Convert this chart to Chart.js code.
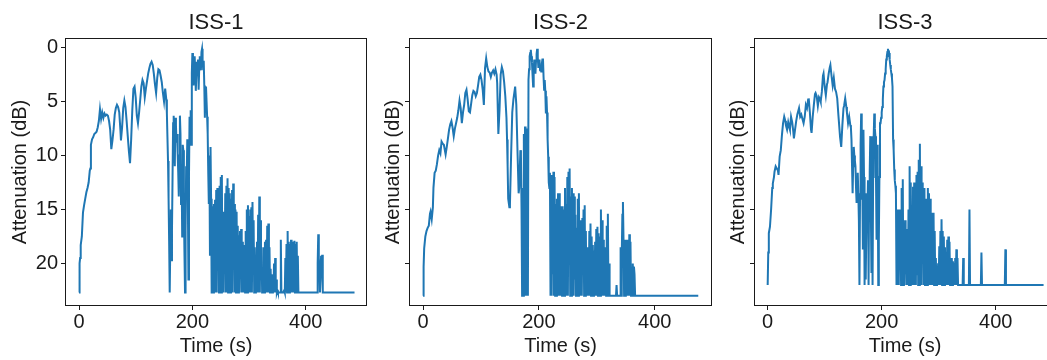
<!DOCTYPE html>
<html>
<head>
<meta charset="utf-8">
<script src="https://cdn.jsdelivr.net/npm/chart.js@4.4.1/dist/chart.umd.min.js"></script>
<style>
  html, body { margin: 0; padding: 0; background: #fff; overflow: hidden; }
  body { width: 1047px; height: 360px; position: relative; }
  canvas { position: absolute; top: 0; }
</style>
</head>
<body>
<canvas id="c1" width="370" height="360" style="left:0"></canvas>
<canvas id="c2" width="342" height="360" style="left:373px"></canvas>
<canvas id="c3" width="341" height="360" style="left:718px"></canvas>
<script>
// axes labels
const titles = ["ISS-1", "ISS-2", "ISS-3"];
const xTicks = [0, 200, 400];
const yTicks = [0, 5, 10, 15, 20];

// ISS-1: time (s) / attenuation (dB)
const iss1Time = [
  0,1,2,3,5,7,9,11,13,15, 17,19,20,21,23,25,27,29,31,33,
  35,37,39,41,43,45,47,49,51,53, 55,57,59,61,63,65,67,69,71,73,
  74,76,78,80,82,84,86,88,90,92, 94,96,98,100,102,104,106,108,110,112,
  114,116,118,120,122,124,126,128,130,132, 134,136,138,140,142,144,146,148,150,152,
  154,
  155,156,157,158,159,160,161,162,163,164, 165,166,167,168,169,170,171,172,173,174,
  175,176,177,178,179,180,181,182,183,184, 185,186,187,188,189,190,191,192,193,194,
  195,196,197,198,199,200,201,202,203,204, 205,206,207,208,209,210,211,212,213,214,
  215,216,217,218,219,220,221,222,223,224, 225,226,227,228,229,230,231,232,233,234,
  235,236,237,238,239,240,241,242,243,244, 245,246,247,248,249,250,251,252,253,254,
  255,256,257,258,259,260,261,262,263,264, 265,266,267,268,269,270,271,272,273,274,
  275,276,277,278,279,280,281,282,283,284, 285,286,287,288,289,290,291,292,293,294,
  295,296,297,298,299,300,301,302,303,304, 305,306,307,308,309,310,311,312,313,314,
  315,316,317,318,319,320,321,322,323,324, 325,326,327,328,329,330,331,332,333,334,
  335,336,337,338,339,340,341,342,343,344, 345,346,347,348,349,350,351,352,353,354,
  355,356,357,358,359,360,361,362,363,364, 365,366,367,368,369,370,371,372,373,374,
  375,376,377,378,379,380,381,382,383,384, 385,386,387,388,
  420,421,422,423,424,425,426,427,428,429, 430,486
];
const iss1Atten = [
  22.7,20.0,19.5,18.3,17.5,15.3,14.6,14.0,13.4,13.0, 12.5,11.4,11.2,9.0,8.5,8.3,8.0,7.9,7.8,7.4,
  6.8,5.7,6.6,6.0,6.5,6.1,6.3,6.2,6.3,6.8, 7.6,9.4,8.6,7.6,6.2,5.6,5.3,5.5,6.0,7.6,
  8.6,7.4,5.6,4.9,5.5,6.8,8.2,9.6,10.7,8.5, 5.8,3.8,3.6,4.6,6.3,7.0,6.0,4.8,3.6,3.0,
  3.3,4.6,3.8,3.1,2.4,1.9,1.5,1.3,1.6,2.4, 3.4,4.2,2.8,2.0,2.1,2.6,3.2,4.2,5.0,3.8,
  4.8,
  6.1,8.3,10.5,14.0,18.0,22.7,18.5,15.0,19.7,17.0, 12.0,7.0,6.3,9.0,11.0,6.5,7.2,8.8,8.0,9.8,
  11.5,13.8,10.0,6.3,8.0,14.5,11.5,17.5,9.0,9.5, 15.0,19.0,22.7,17.0,11.0,12.0,8.5,14.0,21.5,12.0,
  6.4,8.5,5.8,9.0,2.4,0.5,1.5,3.5,2.0,0.8, 2.1,4.0,2.5,1.3,2.0,1.1,3.9,2.0,0.8,1.8,
  2.1,0.4,0.1,1.1,2.0,1.2,3.5,6.5,4.0,3.6, 5.0,6.4,8.0,11.6,14.5,10.0,19.3,9.2,14.0,22.7,
  22.7,14.7,22.7,14.5,21.0,14.1,22.7,13.2,22.7,13.0, 20.5,13.5,22.7,12.8,22.7,12.0,22.7,11.8,22.7,15.2,
  22.7,15.5,19.0,13.5,22.7,12.8,22.7,12.1,22.7,13.0, 21.0,13.5,22.7,14.0,22.7,13.2,22.7,12.6,20.0,14.5,
  22.7,15.0,22.7,15.2,22.7,16.5,22.7,17.4,22.7,17.0, 20.5,16.8,22.7,18.0,22.7,20.0,22.7,18.3,22.7,17.0,
  22.7,15.0,22.7,14.6,21.5,15.6,22.7,15.0,22.7,14.8, 22.7,14.3,20.0,16.0,22.7,18.5,22.7,20.3,22.7,18.0,
  22.7,15.5,22.7,13.8,22.7,16.0,21.0,18.5,22.7,20.5, 22.7,18.5,22.7,18.0,22.7,17.8,22.7,16.5,22.7,16.3,
  22.7,18.5,22.7,20.5,22.7,21.0,22.7,21.2,22.7,20.0, 22.7,19.5,22.7,21.5,22.7,22.5,22.7,22.7,22.7,22.7,
  22.7,17.8,22.7,22.7,22.7,22.7,22.7,22.5,22.7,19.5, 22.7,18.2,22.7,17.0,22.7,18.0,22.7,18.2,22.7,17.8,
  22.7,18.5,22.7,18.0,22.7,17.9,22.7,18.2,22.7,18.0, 22.7,19.3,22.7,22.7,
  22.7,20.0,17.3,19.5,20.5,22.7,21.5,19.3,19.8,19.2, 22.7,22.7
];

// ISS-2
const iss2Time = [
  0,1,2,4,6,8,10,12,13,15, 17,18,20,22,24,26,28,30,32,34,
  36,37,39,41,43,45,47,49,51,53, 55,57,59,61,63,65,67,69,71,73,
  75,77,79,81,83,85,87,89,91,93, 95,97,99,101,103,105,107,109,111,113,
  115,117,119,121,123,125,127,128,130,132, 134,136,138,140,142,144,145,146,147,149,
  150,152,154,156,158,159,161,163,165,166, 168,169,
  170,171,172,173,174,175,176,177,178,179, 180,181,182,183,184,185,186,187,188,189,
  190,191,192,193,194,195,196,197,198,199, 200,201,202,203,204,205,206,207,208,209,
  210,211,212,213,214,215,216,217,218,
  219,220,221,222,223,224,225,226,227,228, 229,230,231,232,233,234,235,236,237,238,
  239,240,241,242,243,244,245,246,247,248, 249,250,251,252,253,254,255,256,257,258,
  259,260,261,262,263,264,265,266,267,268, 269,270,271,272,273,274,275,276,277,278,
  279,280,281,282,283,284,285,286,287,288, 289,290,291,292,293,294,295,296,297,298,
  299,300,301,302,303,304,305,306,307,308, 309,310,311,312,313,314,315,316,317,318,
  319,320,321,322,
  333,334,335,340,341,342,343,344,345,346, 347,348,349,350,351,352,353,354,355,356,
  357,358,359,360,361,362,363,364,365,366, 475
];
const iss2Atten = [
  23.0,20.3,18.6,17.5,17.0,16.7,16.5,15.4,15.2,15.9, 14.8,13.0,11.6,11.4,10.8,10.0,9.5,9.8,8.7,8.9,
  9.0,9.3,9.9,9.2,8.4,7.6,7.1,6.8,7.4,8.2, 7.5,7.0,6.5,5.8,4.9,5.6,7.0,6.0,5.3,4.2,
  3.9,4.8,5.9,6.0,5.2,4.4,4.0,4.1,4.5,4.2, 3.5,2.7,2.5,3.0,3.9,5.3,1.9,1.0,1.8,2.2,
  2.3,2.7,2.3,2.1,2.4,2.0,2.5,3.3,8.0,5.8, 2.5,1.8,2.2,3.2,4.5,6.5,8.5,11.0,14.0,14.8,
  14.5,10.0,6.0,4.8,4.0,3.6,5.3,9.5,13.5,13.0, 9.5,10.0,
  15.0,23.0,13.0,23.0,8.0,23.0,7.3,23.0,7.5,23.0, 9.0,23.0,3.0,2.0,0.8,0.5,0.2,0.8,1.4,2.5,
  3.6,2.0,1.1,1.8,2.4,1.2,0.6,0.1,0.9,1.8, 1.5,1.1,2.1,1.6,2.2,1.5,1.1,1.0,2.7,3.9,
  3.0,4.0,6.1,4.5,6.0,8.5,10.1,12.5,13.0,
  11.6,23.0,11.8,23.0,12.5,21.0,11.5,23.0,12.0,23.0, 14.5,23.0,14.0,20.5,13.5,23.0,13.5,23.0,16.0,23.0,
  14.7,23.0,14.7,21.0,15.0,23.0,13.0,23.0,14.5,23.0, 12.0,23.0,11.5,20.0,11.2,23.0,13.8,23.0,13.0,23.0,
  13.5,23.0,13.8,21.5,15.5,23.0,16.7,23.0,14.0,23.0, 13.5,23.0,16.0,23.0,17.5,23.0,15.8,21.0,15.0,23.0,
  14.6,23.0,17.0,23.0,18.5,23.0,20.7,23.0,17.0,23.0, 16.3,23.0,17.5,23.0,18.3,23.0,18.8,23.0,18.0,23.0,
  16.8,23.0,16.6,23.0,17.2,23.0,17.5,23.0,15.0,23.0, 16.0,23.0,17.8,23.0,18.5,23.0,18.8,23.0,16.5,23.0,
  15.4,23.0,20.0,23.0,
  23.0,22.0,23.0,23.0,18.5,23.0,19.0,15.5,14.3,17.8, 23.0,17.8,23.0,20.5,17.8,23.0,19.5,17.8,23.0,17.3,
  23.0,18.0,23.0,20.3,23.0,20.0,23.0,20.3,21.0,23.0, 23.0
];

// ISS-3
const iss3Time = [
  0,1,2,4,6,8,9,11,12,14, 16,18,19,21,23,25,27,29,31,32,
  34,36,38,39,41,43,45,46,48,50, 52,54,55,57,59,61,63,65,67,69,
  71,72,74,76,77,79,81,83,84,86, 88,90,92,93,95,97,98,100,102,104,
  105,107,109,110,112,114,116,118,120,122, 124,126,127,129,131,133,134,136,138,139,
  141,143,145,146,147,
  148,149,150,151,152,153,154,155,156,157, 158,159,160,161,162,163,164,165,166,167,
  168,169,170,171,172,173,174,175,176,177, 178,179,180,181,182,183,184,185,186,187,
  188,189,190,191,192,193,194,195,196,197, 198,199,200,201,202,203,204,205,206,207,
  208,209,210,211,212,213,214,215,216,217, 218,219,220,221,222,223,224,225,226,
  227,228,229,230,231,232,233,234,235,236, 237,238,239,240,241,242,243,244,245,246,
  247,248,249,250,251,252,253,254,255,256, 257,258,259,260,261,262,263,264,265,266,
  267,268,269,270,271,272,273,274,275,276, 277,278,279,280,281,282,283,284,285,286,
  287,288,289,290,291,292,293,294,295,296, 297,298,299,300,301,302,303,304,305,306,
  307,308,309,310,311,312,313,314,315,316, 317,318,319,320,321,322,323,324,325,326,
  327,328,329,330,331,332,333,334,
  342,343,344,353,354,355,374,375,376,416, 417,418,484
];
const iss3Atten = [
  22.0,19.0,17.2,16.6,15.0,13.0,12.6,12.0,11.5,11.0, 11.2,11.4,11.8,10.1,9.5,8.1,7.0,6.4,6.8,7.2,
  7.6,6.9,7.4,7.6,6.4,6.9,7.8,8.4,7.6,6.8, 6.2,5.8,5.6,6.4,6.2,6.6,7.0,6.4,5.3,5.6,
  4.8,4.7,6.0,7.6,7.9,6.4,5.3,4.3,4.2,4.5, 5.4,4.6,4.8,5.0,4.1,2.6,2.4,3.6,4.4,3.4,
  3.2,2.4,1.8,1.6,2.6,3.5,2.8,3.8,4.1,4.7, 6.2,7.6,8.3,9.2,7.2,5.6,5.4,4.7,5.5,6.0,
  7.0,6.4,7.2,7.4,8.5,
  11.0,13.5,11.0,9.2,10.0,10.5,11.0,13.0,14.4,12.5, 11.6,13.5,16.0,22.0,14.0,9.0,6.1,8.5,12.0,18.7,
  7.6,12.0,22.0,13.5,21.5,17.0,14.0,15.0,12.3,22.0, 13.0,11.5,8.2,15.0,20.8,8.2,22.0,12.0,8.2,6.1,
  7.5,8.2,12.0,17.8,9.0,11.0,22.0,18.0,12.0,7.0, 7.0,6.5,6.0,5.5,4.8,3.6,3.2,3.0,2.4,2.0,
  1.1,0.8,0.4,0.1,0.6,0.5,1.1,1.6,2.0,2.4, 2.8,3.6,8.5,9.5,11.3,12.3,12.8,13.5,22.0,
  15.0,22.0,15.0,22.0,15.0,20.0,16.5,22.0,13.0,22.0, 12.2,22.0,16.5,22.0,16.0,21.0,17.5,22.0,16.8,22.0,
  15.0,22.0,11.0,22.0,12.5,20.5,16.0,22.0,12.9,22.0, 12.5,22.0,13.5,22.0,11.8,21.0,11.5,22.0,10.4,22.0,
  8.9,22.0,11.0,22.0,12.5,20.0,13.8,22.0,13.0,22.0, 14.0,22.0,14.0,22.0,13.0,21.0,13.5,22.0,14.0,22.0,
  15.8,22.0,15.3,22.0,15.3,22.0,17.0,22.0,19.5,22.0, 20.5,22.0,20.0,22.0,18.4,22.0,17.0,22.0,15.9,22.0,
  17.0,22.0,17.5,22.0,18.5,22.0,19.0,22.0,17.8,22.0, 17.5,22.0,18.0,22.0,19.5,22.0,19.5,22.0,19.8,22.0,
  20.0,22.0,19.5,22.0,18.7,22.0,19.5,22.0,
  22.0,19.5,22.0,22.0,15.0,22.0,22.0,19.0,22.0,22.0, 18.7,22.0,22.0
];

const FONT = "'Liberation Sans', Arial, Helvetica, sans-serif";
const INK = "#1a1a1a";
const LINE = "#1f77b4";

// full box around each axes (matplotlib spines)
const framePlugin = {
  id: "frame",
  afterDraw(chart) {
    const { ctx, chartArea: a } = chart;
    ctx.save();
    ctx.strokeStyle = INK;
    ctx.lineWidth = 1;
    const l = Math.round(a.left) + 0.5, t = Math.round(a.top) + 0.5;
    ctx.strokeRect(l, t, Math.round(a.right) - Math.round(a.left) - 1, Math.round(a.bottom) - Math.round(a.top) - 1);
    ctx.restore();
  },
};

const panels = [
  { id: "c1", time: iss1Time, atten: iss1Atten, xMin: -24.7, xMax: 508, yWidth: 65, yLabels: true },
  { id: "c2", time: iss2Time, atten: iss2Atten, xMin: -24.2, xMax: 498.7, yWidth: 36, yLabels: false },
  { id: "c3", time: iss3Time, atten: iss3Atten, xMin: -24, xMax: 505.8, yWidth: 36, yLabels: false },
];

panels.forEach((p, i) => {
  const points = p.time.map((t, k) => ({ x: t, y: p.atten[k] }));
  new Chart(document.getElementById(p.id), {
    type: "line",
    data: {
      datasets: [{ data: points, borderColor: LINE, borderWidth: 2, pointRadius: 0, tension: 0, fill: false }],
    },
    options: {
      responsive: false,
      animation: false,
      events: [],
      layout: { padding: { left: 0, right: 3, top: 0, bottom: 0 } },
      plugins: {
        legend: { display: false },
        tooltip: { enabled: false },
        title: {
          display: true,
          text: titles[i],
          fullSize: false,
          color: INK,
          font: { family: FONT, size: 22, weight: "normal", lineHeight: 1.2 },
          padding: { top: 10, bottom: 1.6 },
        },
      },
      scales: {
        x: {
          type: "linear",
          min: p.xMin,
          max: p.xMax,
          afterBuildTicks: (s) => { s.ticks = xTicks.map((v) => ({ value: v })); },
          afterFit: (s) => { s.height = 54; },
          grid: { drawOnChartArea: false, tickLength: 4, color: INK },
          border: { display: false },
          ticks: { color: INK, font: { family: FONT, size: 20 }, padding: 0, maxRotation: 0, autoSkip: false },
          title: { display: true, text: "Time (s)", color: INK, font: { family: FONT, size: 20, lineHeight: 1.2 }, padding: { top: 0, bottom: 2 } },
        },
        y: {
          type: "linear",
          reverse: true,
          min: -0.9,
          max: 23.95,
          afterBuildTicks: (s) => { s.ticks = yTicks.map((v) => ({ value: v })); },
          afterFit: (s) => { s.width = p.yWidth; },
          grid: { drawOnChartArea: false, tickLength: 4, color: INK },
          border: { display: false },
          ticks: { display: p.yLabels, color: INK, font: { family: FONT, size: 20 }, padding: 3, autoSkip: false },
          title: { display: true, text: "Attenuation (dB)", color: INK, font: { family: FONT, size: 20, lineHeight: 1.2 }, padding: { top: 8.5, bottom: 0 } },
        },
      },
    },
    plugins: [framePlugin],
  });
});
</script>
</body>
</html>
